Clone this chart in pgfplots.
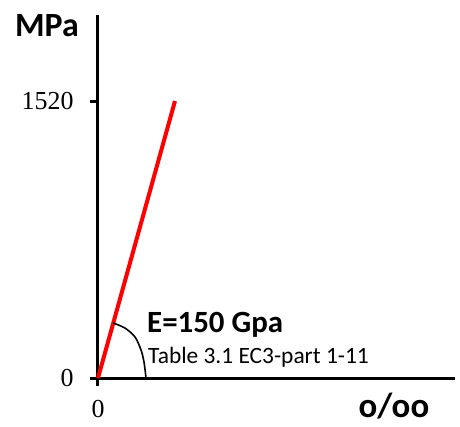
\documentclass[border=0pt]{standalone}
\usepackage{fontspec}
\setmainfont{Carlito}
\newfontfamily\tickfont{Liberation Serif}
\usepackage{pgfplots}
\pgfplotsset{compat=1.18}
\begin{document}
\begin{tikzpicture}
\useasboundingbox (-98bp,-49bp) rectangle (362bp,378bp);
\begin{axis}[
  scale only axis,
  width=357bp, height=363bp,
  xmin=0, xmax=46.97, ymin=0, ymax=1992,
  axis x line=bottom, axis y line=left,
  axis line style={line width=3bp,-},
  xtick={0}, ytick={0,1520},
  tick align=outside,
  major tick length=8bp,
  tick style={line width=3bp,black},
  /pgf/number format/assume math mode=true,
  /pgf/number format/1000 sep={},
  ticklabel style={font=\tickfont\fontsize{26}{30}\selectfont},
  yticklabel style={xshift=-13bp},
  xticklabel style={yshift=-11bp},
  every axis y label/.style={at={(axis description cs:-0.143,0.94)},anchor=base},
  every axis x label/.style={at={(axis description cs:0.829,-0.108)},anchor=base},
  ylabel={\bfseries\fontsize{34}{36}\selectfont MPa},
  xlabel={\bfseries\fontsize{35}{38}\selectfont o/oo},
  clip=false,
]
% linear elastic branch, E = 150 GPa, up to 1520 MPa
\addplot[red, line width=4bp] coordinates {(0,0) (10.13,1520)};
% angle marker between the line and the strain axis
\addplot[black, line width=1.6bp, smooth] coordinates {
  (2.0,302) (3.55,274) (4.87,225) (5.66,154) (6.05,88) (6.32,0)};
\node[anchor=base west, inner sep=0pt, font=\bfseries\fontsize{31}{34}\selectfont]
  at (axis cs:6.45,252) {E=150 Gpa};
\node[anchor=base west, inner sep=0pt, font=\fontsize{23.5}{26}\selectfont]
  at (axis cs:6.58,77) {Table 3.1 EC3-part 1-11};
\end{axis}
\end{tikzpicture}
\end{document}
